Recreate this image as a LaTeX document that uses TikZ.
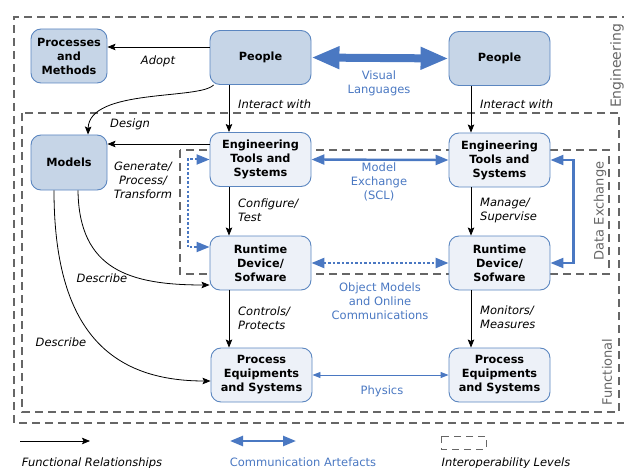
\documentclass[tikz,border=0pt]{standalone}
\usepackage{fontspec}
\setmainfont{DejaVu Sans}
\usetikzlibrary{arrows.meta,calc}

\definecolor{boxblue}{HTML}{5B86C0}
\definecolor{darkfill}{HTML}{C6D5E7}
\definecolor{lightfill}{HTML}{EDF1F8}
\definecolor{linkblue}{HTML}{4A78C2}
\definecolor{framegrey}{HTML}{666666}

\begin{document}
\begin{tikzpicture}[x=1pt,y=-1pt,
  font=\fontsize{11.5}{14}\selectfont,
  actor/.style={draw=boxblue, line width=0.9pt, rounded corners=10pt, fill=darkfill,
    minimum width=101pt, minimum height=54pt, align=center, inner sep=0pt,
    font=\fontsize{11.3}{14}\selectfont\bfseries},
  tool/.style={actor, fill=lightfill},
  rel/.style={-{Stealth[length=8pt,width=6.5pt,inset=1.5pt]}, line width=0.8pt},
  lbl/.style={font=\fontsize{11.5}{14}\selectfont\itshape, align=left, inner sep=0pt},
  comm/.style={text=linkblue, align=center, inner sep=0pt},
  level/.style={draw=framegrey, line width=1.1pt, dash pattern=on 8pt off 5pt},
  levellabel/.style={text=framegrey, rotate=90, inner sep=0pt},
  bigcomm/.style={{Triangle[length=28pt,width=21pt]}-{Triangle[length=28pt,width=21pt]},
    draw=linkblue, line width=8pt},
  midcomm/.style={{Triangle[length=13pt,width=10pt]}-{Triangle[length=13pt,width=10pt]},
    draw=linkblue, line width=2.4pt},
  dotcomm/.style={midcomm, dash pattern=on 2.5pt off 2pt},
  thincomm/.style={{Triangle[length=8pt,width=6pt]}-{Triangle[length=8pt,width=6pt]},
    draw=linkblue, line width=0.9pt},
]
\useasboundingbox (0,0) rectangle (624,468);

% interoperability levels
\draw[level] (630,17) -- (14,17) -- (14,423) -- (630,423);
\draw[level] (22,113) rectangle (619,412);
\draw[level] (180,150) rectangle (609,274);
\node[levellabel, font=\fontsize{14}{16}\selectfont] (lvleng) at (617,66) {Engineering};
\node[levellabel, font=\fontsize{13}{15}\selectfont] (lvldata) at (600,211) {Data Exchange};
\node[levellabel, font=\fontsize{13}{15}\selectfont] (lvlfun) at (607,372) {Functional};

% actors and systems
\node[actor, minimum width=76pt] (pm) at (69,56) {Processes\\and\\Methods};
\node[actor] (pl) at (260.5,57.5) {People};
\node[actor] (pr) at (499.5,58.5) {People};
\node[actor, minimum width=76pt, minimum height=55pt] (mo) at (69,162.5) {Models};
\node[tool] (etl) at (260.5,159.5) {Engineering\\Tools and\\Systems};
\node[tool] (etr) at (499.5,160) {Engineering\\Tools and\\Systems};
\node[tool] (rtl) at (260.5,263) {Runtime\\Device/\\Sofware};
\node[tool] (rtr) at (499.5,263) {Runtime\\Device/\\Sofware};
\node[tool] (pel) at (261.5,375) {Process\\Equipments\\and Systems};
\node[tool] (per) at (499.5,375) {Process\\Equipments\\and Systems};

% functional relationships
\draw[rel] ([yshift=10.5pt]pl.west) -- ([yshift=10.5pt]pl.west -| pm.east);
\node[lbl] (adopt) at (158,61) {Adopt};

\draw[rel] ([xshift=-31.5pt]pl.south) -- ([xshift=-31.5pt]etl.north);
\node[lbl, anchor=west] (intl) at (238,104) {Interact with};
\draw[rel] ([xshift=-28.5pt]pr.south) -- ([xshift=-28.5pt]etr.north);
\node[lbl, anchor=west] (intr) at (480,104) {Interact with};

\draw[rel] ([xshift=4pt]pl.south west) .. controls (200,100) and (89,88) .. (mo.north -| 88,0);
\node[lbl] (design) at (130,124) {Design};

\draw[rel] ([yshift=15.5pt]etl.west) -- ([yshift=15.5pt]etl.west -| mo.east);
\node[lbl, align=center] (gen) at (143,180) {Generate/\\Process/\\Transform};

\draw[rel] ([xshift=-31.5pt]etl.south) -- ([xshift=-31.5pt]rtl.north);
\node[lbl, anchor=west] (conf) at (238,210) {Configure/\\Test};
\draw[rel] ([xshift=-28.5pt]etr.south) -- ([xshift=-28.5pt]rtr.north);
\node[lbl, anchor=west] (mng) at (480,210.5) {Manage/\\Supervise};

\draw[rel] ([xshift=-31.5pt]rtl.south) -- ([xshift=-32.5pt]pel.north);
\node[lbl, anchor=west] (ctrl) at (238,318) {Controls/\\Protects};
\draw[rel] ([xshift=-28.5pt]rtr.south) -- ([xshift=-28.5pt]per.north);
\node[lbl, anchor=west] (mon) at (480,317) {Monitors/\\Measures};

\draw[rel] ([xshift=9pt]mo.south) .. controls (79,270) and (130,285) .. ([yshift=-22pt]rtl.west);
\node[lbl] (desc1) at (102,278) {Describe};
\draw[rel] ([xshift=-15pt]mo.south) .. controls (54,330) and (110,381) .. ([yshift=-6pt]pel.west);
\node[lbl] (desc2) at (61,342) {Describe};

% communication artefacts
\draw[bigcomm] (pl.east) -- (pr.west);
\node[comm] (vis) at (379,83) {Visual\\Languages};

\draw[midcomm] (etl.east) -- (etr.west);
\node[comm] (mex) at (379,182) {Model\\Exchange\\(SCL)};

\draw[dotcomm] (rtl.east) -- (rtr.west);
\node[comm] (obj) at (380,301) {Object Models\\and Online\\Communications};

\draw[thincomm] (pel.east) -- (per.west);
\node[comm] (phy) at (382,391) {Physics};

\draw[dotcomm, line width=2pt] (etl.west) -- ++(-22,0) |- ([yshift=16pt]rtl.west);
\draw[midcomm, line width=2.2pt] (etr.east) -- ++(23,0) |- (rtr.east);

% legend
\coordinate (lg1a) at (20,441);
\coordinate (lg1b) at (90,441);
\draw[rel] (lg1a) -- (lg1b);
\node[lbl, anchor=base] (lgt1) at (92,466) {Functional Relationships};
\coordinate (lg2a) at (230,441);
\coordinate (lg2b) at (296,441);
\draw[midcomm] (lg2a) -- (lg2b);
\node[comm, anchor=base] (lgt2) at (303,466) {Communication Artefacts};
\draw[level, line width=1pt, dash pattern=on 7pt off 5pt] (441,436) rectangle (486,449);
\node[lbl, anchor=base] (lgt3) at (506,466) {Interoperability Levels};
\end{tikzpicture}
\end{document}
